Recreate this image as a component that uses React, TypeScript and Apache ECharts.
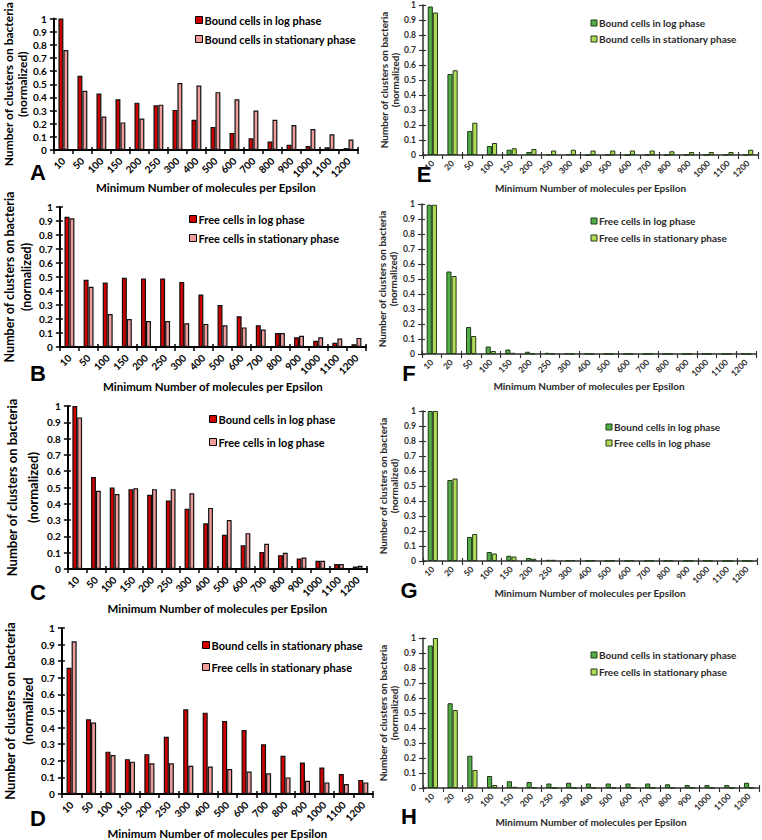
import React, { useEffect, useRef } from 'react';
import * as echarts from 'echarts';

const catsLeft = ['10', '50', '100', '150', '200', '250', '300', '400', '500', '600', '700', '800', '900', '1000', '1100', '1200'];
const catsRight = ['10', '20', '50', '100', '150', '200', '250', '300', '400', '500', '600', '700', '800', '900', '1000', '1100', '1200'];

const boundLogA = [1.0, 0.565, 0.43, 0.385, 0.36, 0.34, 0.305, 0.23, 0.175, 0.13, 0.09, 0.065, 0.04, 0.03, 0.02, 0.015];
const boundStatA = [0.76, 0.45, 0.255, 0.21, 0.24, 0.345, 0.51, 0.49, 0.44, 0.385, 0.3, 0.23, 0.19, 0.16, 0.12, 0.08];

const freeLogB = [0.93, 0.48, 0.46, 0.495, 0.49, 0.49, 0.465, 0.375, 0.3, 0.22, 0.155, 0.1, 0.07, 0.045, 0.03, 0.02];
const freeStatB = [0.92, 0.43, 0.235, 0.2, 0.185, 0.185, 0.17, 0.165, 0.155, 0.14, 0.125, 0.1, 0.08, 0.07, 0.06, 0.065];

const boundLogC = [1.0, 0.565, 0.5, 0.49, 0.455, 0.42, 0.37, 0.28, 0.21, 0.145, 0.105, 0.085, 0.065, 0.05, 0.03, 0.015];
const freeLogC = [0.93, 0.48, 0.46, 0.495, 0.49, 0.49, 0.465, 0.375, 0.3, 0.22, 0.155, 0.1, 0.07, 0.05, 0.03, 0.02];

const boundStatD = [0.76, 0.45, 0.255, 0.21, 0.24, 0.345, 0.51, 0.49, 0.44, 0.385, 0.3, 0.23, 0.19, 0.16, 0.12, 0.085];
const freeStatD = [0.92, 0.43, 0.235, 0.195, 0.185, 0.185, 0.17, 0.165, 0.15, 0.135, 0.125, 0.1, 0.08, 0.07, 0.06, 0.07];

const boundLogE = [0.99, 0.54, 0.16, 0.06, 0.035, 0.02, 0.005, 0.005, 0, 0, 0, 0, 0, 0, 0, 0, 0];
const boundStatE = [0.95, 0.565, 0.215, 0.08, 0.045, 0.04, 0.03, 0.035, 0.03, 0.03, 0.03, 0.03, 0.025, 0.02, 0.02, 0.02, 0.035];

const freeLogF = [0.995, 0.55, 0.18, 0.05, 0.03, 0.015, 0.008, 0.005, 0.005, 0, 0, 0, 0, 0, 0, 0, 0];
const freeStatF = [0.995, 0.52, 0.12, 0.02, 0.008, 0.003, 0.003, 0.002, 0, 0, 0, 0, 0, 0, 0, 0, 0];

const boundLogG = [1.0, 0.54, 0.16, 0.06, 0.035, 0.02, 0.008, 0.005, 0.003, 0.002, 0.002, 0.002, 0.002, 0.002, 0.002, 0, 0];
const freeLogG = [1.0, 0.55, 0.18, 0.05, 0.03, 0.015, 0.008, 0.005, 0.005, 0.003, 0.003, 0.002, 0.002, 0.002, 0.002, 0, 0];

const boundStatH = [0.95, 0.565, 0.215, 0.08, 0.045, 0.04, 0.03, 0.035, 0.03, 0.03, 0.03, 0.03, 0.025, 0.02, 0.02, 0.02, 0.035];
const freeStatH = [1.0, 0.52, 0.12, 0.02, 0.008, 0.003, 0, 0, 0, 0, 0, 0, 0, 0, 0, 0, 0];

const legendA = ['Bound cells in log phase', 'Bound cells in stationary phase'];
const legendB = ['Free cells in log phase', 'Free cells in stationary phase'];
const legendC = ['Bound cells in log phase', 'Free cells in log phase'];
const legendD = ['Bound cells in stationary phase', 'Free cells in stationary phase'];
const legendE = ['Bound cells in log phase', 'Bound cells in stationary phase'];
const legendF = ['Free cells in log phase', 'Free cells in stationary phase'];
const legendG = ['Bound cells in log phase', 'Free cells in log phase'];
const legendH = ['Bound cells in stationary phase', 'Free cells in stationary phase'];

const xTitle = 'Minimum Number of molecules per Epsilon';
const yTitleFull = 'Number of clusters on bacteria\n(normalized)';
const yTitleD = 'Number of clusters on bacteria\n(normalized';

const RED = '#d00000';
const PINK = '#ee9c9c';
const DGREEN = '#52ad48';
const LGREEN = '#b3da56';

const FONT = 'Lato, "Liberation Sans", sans-serif';

type Panel = {
  letter: string;
  cats: string[];
  vals: number[][];
  names: string[];
  colors: string[];
  left: boolean;
  grid: { left: number; top: number; width: number; height: number };
  xGap: number;
  yGap: number;
  yTitle: string;
  yFont: number;
  yLine: number;
  legend: [number, number, number];
  letterPos: [number, number];
};

const panels: Panel[] = [
  { letter: 'A', cats: catsLeft, vals: [boundLogA, boundStatA], names: legendA, colors: [RED, PINK], left: true,
    grid: { left: 51, top: 12, width: 307, height: 138 }, xGap: 30, yGap: 23, yTitle: yTitleFull, yFont: 12, yLine: 14,
    legend: [199, 20, 39], letterPos: [38, 172] },
  { letter: 'B', cats: catsLeft, vals: [freeLogB, freeStatB], names: legendB, colors: [RED, PINK], left: true,
    grid: { left: 52, top: 207, width: 314, height: 140 }, xGap: 33, yGap: 19, yTitle: yTitleFull, yFont: 12.5, yLine: 17,
    legend: [193, 219, 238], letterPos: [38, 373] },
  { letter: 'C', cats: catsLeft, vals: [boundLogC, freeLogC], names: legendC, colors: [RED, PINK], left: true,
    grid: { left: 60, top: 406, width: 307, height: 163 }, xGap: 33, yGap: 17, yTitle: yTitleFull, yFont: 13, yLine: 21,
    legend: [213, 419, 442], letterPos: [38, 592] },
  { letter: 'D', cats: catsLeft, vals: [boundStatD, freeStatD], names: legendD, colors: [RED, PINK], left: true,
    grid: { left: 59, top: 628, width: 314, height: 166 }, xGap: 33, yGap: 15, yTitle: yTitleD, yFont: 13, yLine: 18,
    legend: [206, 645, 667], letterPos: [38, 818] },
  { letter: 'E', cats: catsRight, vals: [boundLogE, boundStatE], names: legendE, colors: [DGREEN, LGREEN], left: false,
    grid: { left: 423, top: 5, width: 335, height: 150 }, xGap: 28, yGap: 23, yTitle: yTitleFull, yFont: 10, yLine: 11,
    legend: [594, 23, 39], letterPos: [424, 174] },
  { letter: 'F', cats: catsRight, vals: [freeLogF, freeStatF], names: legendF, colors: [DGREEN, LGREEN], left: false,
    grid: { left: 422, top: 204, width: 334, height: 150 }, xGap: 27, yGap: 24, yTitle: yTitleFull, yFont: 10, yLine: 11,
    legend: [594, 221, 238], letterPos: [409, 373] },
  { letter: 'G', cats: catsRight, vals: [boundLogG, freeLogG], names: legendG, colors: [DGREEN, LGREEN], left: false,
    grid: { left: 423, top: 411, width: 334, height: 150 }, xGap: 27, yGap: 24, yTitle: yTitleFull, yFont: 10, yLine: 11,
    legend: [609, 427, 443], letterPos: [409, 590] },
  { letter: 'H', cats: catsRight, vals: [boundStatH, freeStatH], names: legendH, colors: [DGREEN, LGREEN], left: false,
    grid: { left: 423, top: 638, width: 336, height: 150 }, xGap: 29, yGap: 24, yTitle: yTitleFull, yFont: 10, yLine: 11,
    legend: [594, 655, 672], letterPos: [409, 816] },
];

function buildOption() {
  const grid: any[] = [];
  const xAxis: any[] = [];
  const yAxis: any[] = [];
  const series: any[] = [];
  const graphic: any[] = [];

  panels.forEach((p, i) => {
    const axisColor = p.left ? '#000' : '#2e2e2e';
    const textColor = p.left ? '#000' : '#2a2a2a';
    const lineW = p.left ? 2 : 1.5;
    const tickFont = p.left ? 10 : 8.5;
    grid.push({ ...p.grid, containLabel: false });

    xAxis.push({
      type: 'category', gridIndex: i, data: p.cats, position: 'bottom',
      axisLine: { lineStyle: { color: axisColor, width: lineW } },
      axisTick: { show: true, length: 4, lineStyle: { color: axisColor, width: lineW * 0.75 } },
      axisLabel: { rotate: 45, fontSize: tickFont, fontWeight: 'bold', color: textColor, fontFamily: FONT, margin: p.left ? 9 : 7, interval: 0 },
      name: xTitle, nameLocation: 'middle', nameGap: p.xGap,
      nameTextStyle: { fontSize: p.left ? 11.5 : 10, fontWeight: 'bold', color: textColor, fontFamily: FONT },
    });
    yAxis.push({
      type: 'value', gridIndex: i, min: 0, max: 1, interval: 0.1, position: 'left',
      axisLine: { show: true, lineStyle: { color: axisColor, width: lineW } },
      axisTick: { show: true, length: 4, lineStyle: { color: axisColor, width: lineW * 0.75 } },
      axisLabel: { fontSize: tickFont, fontWeight: 'bold', color: textColor, fontFamily: FONT, margin: 7 },
      splitLine: { show: false },
      name: p.yTitle, nameLocation: 'middle', nameGap: p.yGap, nameRotate: 90,
      nameTextStyle: { fontSize: p.yFont, lineHeight: p.yLine, fontWeight: 'bold', color: textColor, fontFamily: FONT },
    });
    xAxis.push({
      type: 'category', gridIndex: i, data: p.cats, position: 'bottom',
      axisLine: { show: false },
      axisTick: { show: true, inside: true, length: 3, lineStyle: { color: axisColor, width: lineW * 0.75 } },
      axisLabel: { show: false },
    });
    yAxis.push({
      type: 'value', gridIndex: i, min: 0, max: 1, interval: 0.1, position: 'left',
      axisLine: { show: false },
      axisTick: { show: true, inside: true, length: 3, lineStyle: { color: axisColor, width: lineW * 0.75 } },
      axisLabel: { show: false },
      splitLine: { show: false },
    });

    p.vals.forEach((vals, k) => {
      series.push({
        type: 'bar', name: p.names[k], xAxisIndex: i * 2, yAxisIndex: i * 2,
        data: vals, barGap: '0%', barCategoryGap: '48%',
        itemStyle: { color: p.colors[k], borderColor: p.left ? '#111' : '#1f3a17', borderWidth: p.left ? 1.2 : 1 },
      });
    });

    graphic.push({
      type: 'text', x: p.letterPos[0], y: p.letterPos[1],
      style: { text: p.letter, fontSize: 22, fontWeight: 'bold', fontFamily: '"Liberation Sans", Arial, sans-serif',
        fill: '#000', textAlign: 'center', textVerticalAlign: 'middle' },
    });
    const ms = p.left ? 7 : 6;
    [p.legend[1], p.legend[2]].forEach((ly, k) => {
      graphic.push({
        type: 'rect', shape: { x: p.legend[0] - ms / 2, y: ly - ms / 2, width: ms, height: ms },
        style: { fill: p.colors[k], stroke: p.left ? '#000' : '#1f3a17', lineWidth: 1 },
      });
      graphic.push({
        type: 'text', x: p.legend[0] + ms / 2 + 2, y: ly,
        style: { text: p.names[k], fontSize: p.left ? 11 : 10, fontWeight: 'bold', fontFamily: FONT,
          fill: textColor, textAlign: 'left', textVerticalAlign: 'middle' },
      });
    });
  });

  return { animation: false, backgroundColor: '#fff', grid, xAxis, yAxis, series, graphic };
}

export default function App() {
  const ref = useRef<HTMLDivElement>(null);
  useEffect(() => {
    if (!ref.current) return;
    const chart = echarts.init(ref.current, undefined, { renderer: 'svg' });
    chart.setOption(buildOption() as any);
    return () => chart.dispose();
  }, []);
  return <div ref={ref} style={{ width: 762, height: 840, position: 'absolute', left: 0, top: 0 }} />;
}
